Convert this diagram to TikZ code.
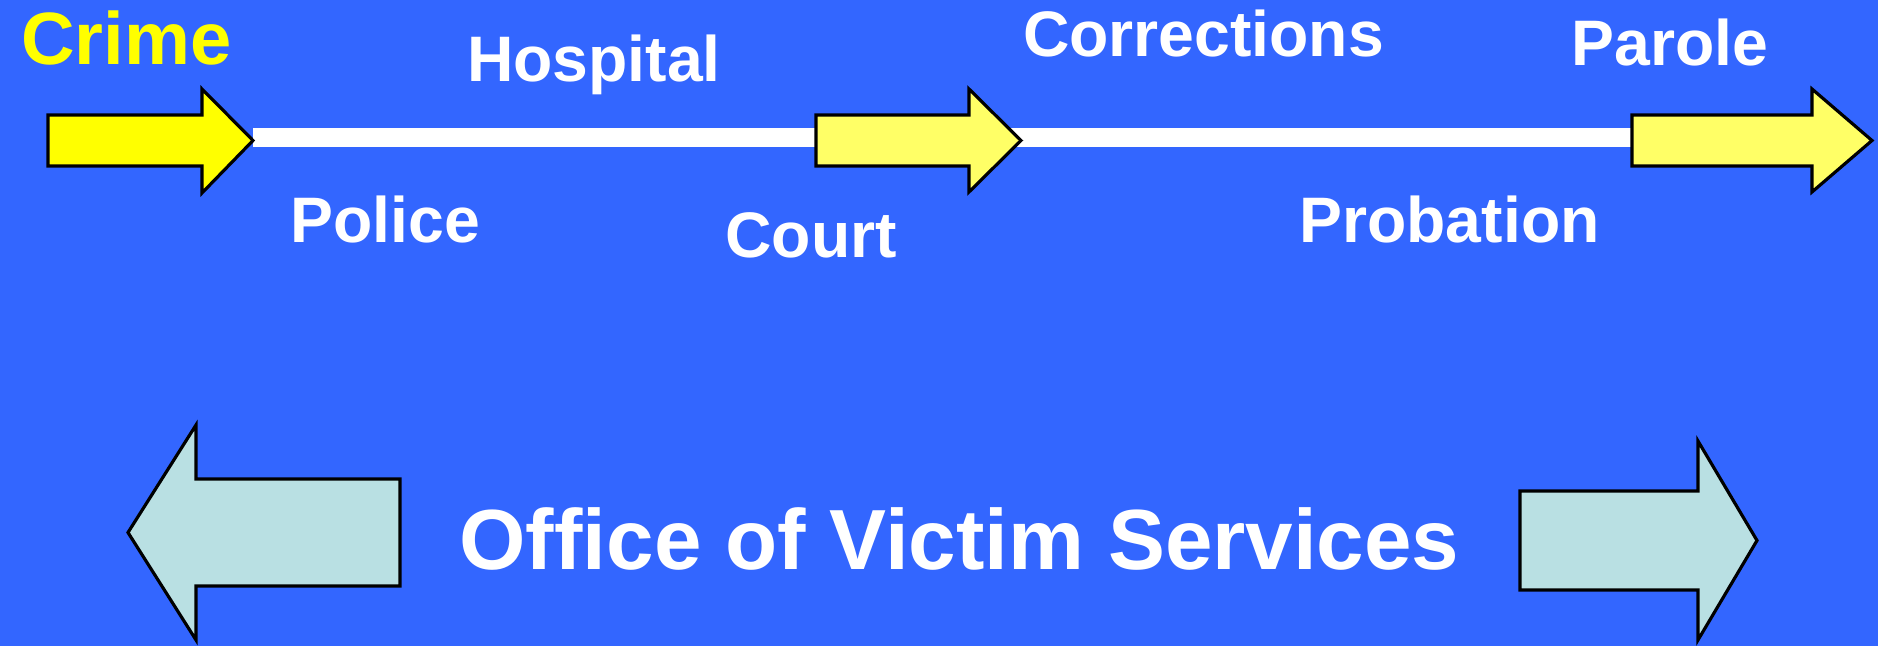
\documentclass[tikz,border=0pt]{standalone}
\usepackage{fontspec}
\setmainfont{Liberation Sans}
\definecolor{slideblue}{HTML}{3366FF}
\definecolor{crimeyellow}{HTML}{FFFF00}
\definecolor{stepyellow}{HTML}{FFFF66}
\definecolor{ovscyan}{HTML}{B9E0E3}
\tikzset{
  label/.style={text=white, font=\fontsize{18.3}{22}\selectfont\bfseries, anchor=base, inner sep=0pt},
  yarrow/.style={draw=black, line width=0.9pt, fill=stepyellow},
  carrow/.style={draw=black, line width=0.9pt, fill=ovscyan}
}
\begin{document}
\begin{tikzpicture}
\fill [slideblue] (0,0) rectangle (18.78,6.46);
% time line
\coordinate (crimetip) at (2.53,5.085);
\coordinate (parolebase) at (16.32,5.085);
\draw [white, line width=0.19cm] (crimetip) -- (parolebase);
\draw [yarrow, fill=crimeyellow] (0.48,5.31) -- (2.02,5.31) -- (2.02,5.57) -- (2.53,5.055) -- (2.02,4.53) -- (2.02,4.80) -- (0.48,4.80) -- cycle;
\draw [yarrow] (8.16,5.31) -- (9.69,5.31) -- (9.69,5.57) -- (10.21,5.055) -- (9.69,4.54) -- (9.69,4.80) -- (8.16,4.80) -- cycle;
\draw [yarrow] (16.32,5.31) -- (18.12,5.31) -- (18.12,5.57) -- (18.72,5.055) -- (18.12,4.54) -- (18.12,4.80) -- (16.32,4.80) -- cycle;
% labels
\node [label, text=crimeyellow, font=\fontsize{21.1}{25}\selectfont\bfseries] (crime) at (1.265,5.81) {Crime};
\node [label] (hospital) at (5.94,5.64) {Hospital};
\node [label] (police) at (3.855,4.04) {Police};
\node [label] (court) at (8.11,3.88) {Court};
\node [label] (corrections) at (12.035,5.89) {Corrections};
\node [label] (parole) at (16.70,5.80) {Parole};
\node [label] (probation) at (14.495,4.04) {Probation};
% victim services
\draw [carrow] (4.00,1.67) -- (1.96,1.67) -- (1.96,2.21) -- (1.28,1.135) -- (1.96,0.06) -- (1.96,0.60) -- (4.00,0.60) -- cycle;
\draw [carrow] (15.20,1.55) -- (16.98,1.55) -- (16.98,2.05) -- (17.57,1.055) -- (16.98,0.06) -- (16.98,0.56) -- (15.20,0.56) -- cycle;
\node [label, font=\fontsize{24.3}{29}\selectfont\bfseries] (ovs) at (9.595,0.77) {Office of Victim Services};
\end{tikzpicture}
\end{document}
